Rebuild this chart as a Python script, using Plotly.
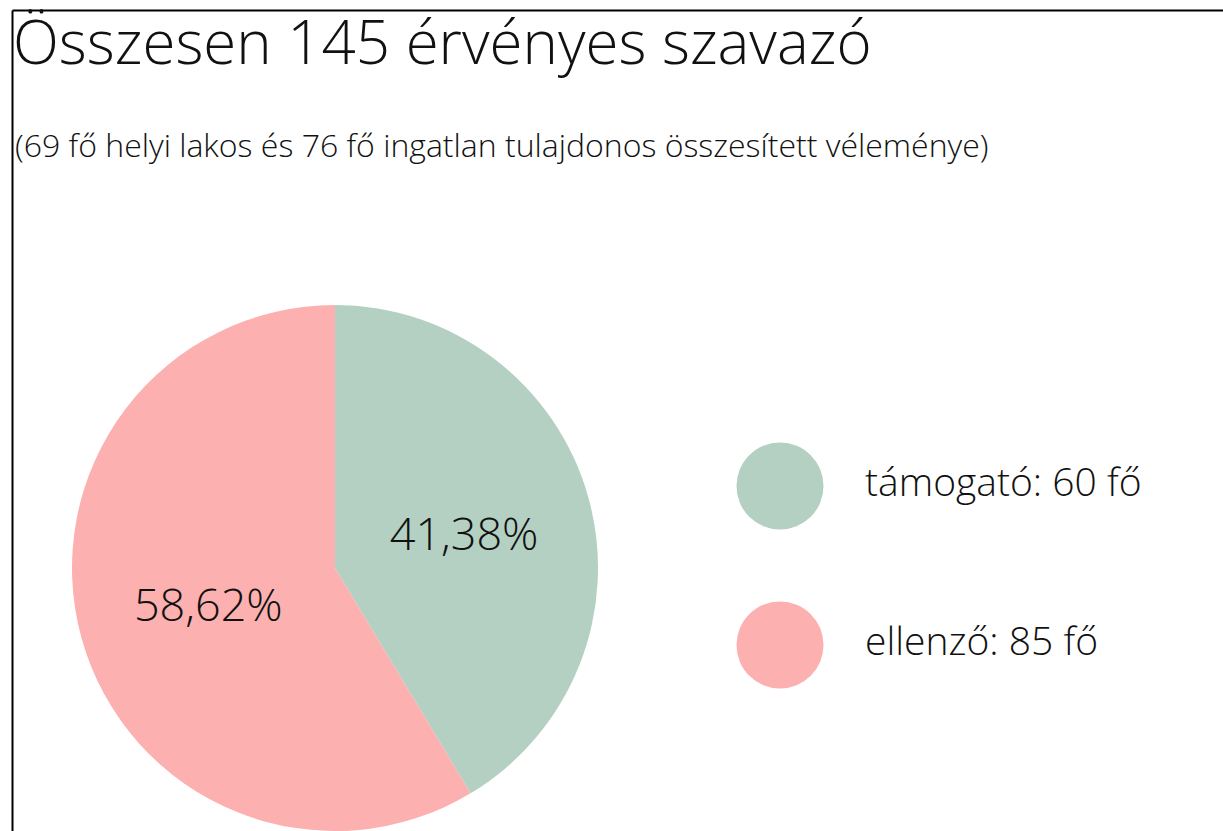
import plotly.graph_objects as go

# ---- data ----
title_text = "Összesen 145 érvényes szavazó"
subtitle_text = "(69 fő helyi lakos és 76 fő ingatlan tulajdonos összesített véleménye)"
categories = ["támogató", "ellenző"]
values = [60, 85]
unit = "fő"
colors = ["#B3D0C2", "#FCB0B0"]

FONT = "Open Sans"
WEIGHT = 300
total = sum(values)
pct_text = [f"{v / total * 100:.2f}%".replace(".", ",") for v in values]
legend_text = [f"{c}: {v} {unit}" for c, v in zip(categories, values)]

W, H = 1223, 831

fig = go.Figure()

fig.add_trace(go.Pie(
    labels=categories,
    values=values,
    text=pct_text,
    textinfo="text",
    textposition="inside",
    insidetextorientation="horizontal",
    textfont=dict(family=FONT, size=45, color="#111111", weight=WEIGHT),
    marker=dict(colors=colors, line=dict(width=0)),
    sort=False,
    direction="clockwise",
    rotation=0,
    showlegend=False,
    hoverinfo="label+value+percent",
    domain=dict(x=[72 / W, 598 / W], y=[0, 526 / H]),
))

# custom legend: big circles + labels
fig.add_trace(go.Scatter(
    x=[0] * len(categories),
    y=categories,
    mode="markers",
    marker=dict(size=87, color=colors, line=dict(width=0)),
    showlegend=False,
    hoverinfo="skip",
    xaxis="x", yaxis="y",
))
fig.add_trace(go.Scatter(
    x=[1] * len(categories),
    y=categories,
    mode="text",
    text=legend_text,
    textposition="middle right",
    textfont=dict(family=FONT, size=39, color="#111111", weight=WEIGHT),
    showlegend=False,
    hoverinfo="skip",
    xaxis="x", yaxis="y",
))

x_px0, x_px1 = 780, 865
scale_x = x_px1 - x_px0
dom_left = 0.55
xr = [-(x_px0 - dom_left * W) / scale_x, (W - x_px0) / scale_x]
y_px0, y_px1 = 486, 645
scale_y = y_px1 - y_px0
yr = [(H - y_px0) / scale_y, -y_px0 / scale_y]

fig.update_layout(
    width=W, height=H,
    margin=dict(l=0, r=0, t=0, b=0),
    paper_bgcolor="white",
    plot_bgcolor="rgba(0,0,0,0)",
    font=dict(family=FONT, color="#111111", weight=WEIGHT),
    title=dict(
        text=title_text,
        x=13 / W, xanchor="left", xref="paper",
        y=1 - 43 / H, yanchor="middle", yref="container",
        font=dict(family=FONT, size=60, color="#111111", weight=WEIGHT),
    ),
    xaxis=dict(domain=[dom_left, 1], range=xr, visible=False, fixedrange=True),
    yaxis=dict(domain=[0, 1], range=yr, visible=False, fixedrange=True,
               type="category", categoryorder="array", categoryarray=categories),
    annotations=[dict(
        text=subtitle_text, xref="paper", yref="paper",
        x=13 / W, y=1 - 144 / H, xanchor="left", yanchor="middle",
        showarrow=False, font=dict(family=FONT, size=32, color="#111111", weight=WEIGHT),
    )],
    shapes=[
        dict(type="line", xref="paper", yref="paper",
             x0=12.5 / W, x1=1, y0=1 - 10.5 / H, y1=1 - 10.5 / H,
             line=dict(color="black", width=2)),
        dict(type="line", xref="paper", yref="paper",
             x0=12.5 / W, x1=12.5 / W, y0=0, y1=1 - 10.5 / H,
             line=dict(color="black", width=2)),
    ],
)

fig.write_html(
    "out.html",
    config={"displayModeBar": False},
    post_script="document.body.style.margin='0';document.body.style.overflow='hidden';",
)
